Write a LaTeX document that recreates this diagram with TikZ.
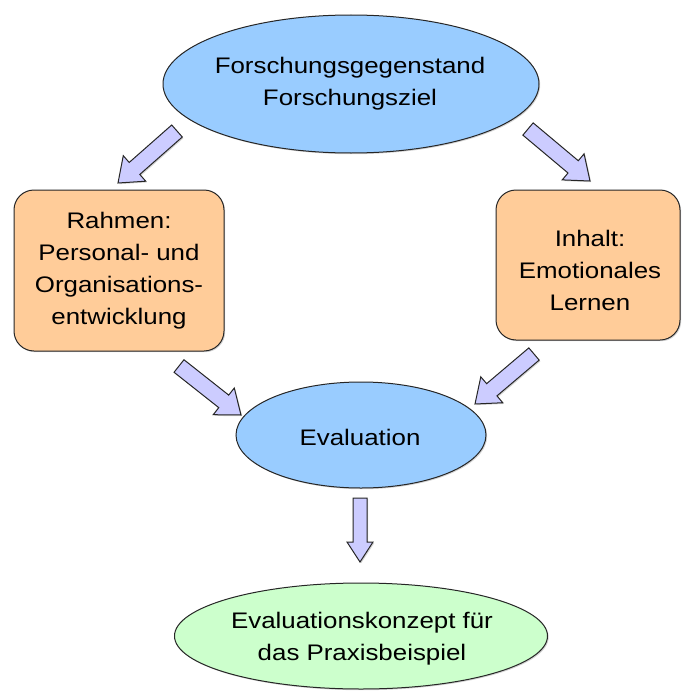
\documentclass[tikz,border=0pt]{standalone}
\usepackage{fontspec}
\setmainfont[FakeStretch=1.15]{Liberation Sans}
\usetikzlibrary{shapes.geometric,calc,shadows}
\definecolor{ellblue}{HTML}{99CCFF}
\definecolor{boxpeach}{HTML}{FFCC99}
\definecolor{ellgreen}{HTML}{CCFFCC}
\definecolor{arrlav}{HTML}{CCCCFF}
\tikzset{
  shapeline/.style={draw=black!85, line width=1pt,
    drop shadow={opacity=0.35, shadow xshift=1.2pt, shadow yshift=-1.2pt}},
  ell/.style={ellipse, shapeline, inner sep=0pt},
  roundbox/.style={rectangle, rounded corners=20pt, shapeline, fill=boxpeach, inner sep=0pt},
  txt/.style={align=center, font=\fontsize{22.5}{32}\selectfont, inner sep=0pt},
  barrow/.style={fill=arrlav, draw=black!85, line width=1pt, line join=miter,
    drop shadow={opacity=0.35, shadow xshift=1.2pt, shadow yshift=-1.2pt}}
}
% block arrow: #1 tail, #2 tip, #3 shaft half width, #4 head half width, #5 head length
\newcommand{\blockarrow}[5]{%
  \draw[barrow]
    ($(#1)!#3!90:(#2)$) --
    ($(#2)!#5!(#1)!#3!-90:(#1)$) --
    ($(#2)!#5!(#1)!#4!-90:(#1)$) --
    (#2) --
    ($(#2)!#5!(#1)!#4!90:(#1)$) --
    ($(#2)!#5!(#1)!#3!90:(#1)$) --
    ($(#1)!#3!-90:(#2)$) -- cycle;}
\begin{document}
\begin{tikzpicture}[x=1pt,y=-1pt]
\useasboundingbox (0,0) rectangle (681,693);
% shapes
\node[ell, fill=ellblue, minimum width=376pt, minimum height=138pt] (top) at (351,84) {};
\node[roundbox, minimum width=210pt, minimum height=161pt] (left) at (119,270.5) {};
\node[roundbox, minimum width=184pt, minimum height=150pt] (right) at (588,265) {};
\node[ell, fill=ellblue, minimum width=250pt, minimum height=106pt] (eval) at (361,435) {};
\node[ell, fill=ellgreen, minimum width=373pt, minimum height=106pt] (final) at (361,636) {};
% texts
\node[txt] (toptxt) at (350,84) {Forschungsgegenstand\\Forschungsziel};
\node[txt] (lefttxt) at (119,271) {Rahmen:\\Personal- und\\Organisations-\\entwicklung};
\node[txt] (righttxt) at (590,270) {Inhalt:\\Emotionales\\Lernen};
\node[txt] (evaltxt) at (360,437) {Evaluation};
\node[txt] (finaltxt) at (362,639) {Evaluationskonzept für\\das Praxisbeispiel};
% arrow end points
\coordinate (a1s) at (177,131); \coordinate (a1e) at (118,183);
\coordinate (a2s) at (528,129); \coordinate (a2e) at (590,181);
\coordinate (a3s) at (179,366); \coordinate (a3e) at (241,415);
\coordinate (a4s) at (534,354); \coordinate (a4e) at (475,404);
\coordinate (a5s) at (360,498); \coordinate (a5e) at (360,562);
\blockarrow{a1s}{a1e}{8pt}{17pt}{22pt}
\blockarrow{a2s}{a2e}{8pt}{17pt}{22pt}
\blockarrow{a3s}{a3e}{8pt}{17pt}{22pt}
\blockarrow{a4s}{a4e}{8pt}{17pt}{22pt}
\blockarrow{a5s}{a5e}{7pt}{13pt}{20pt}
\end{tikzpicture}
\end{document}
